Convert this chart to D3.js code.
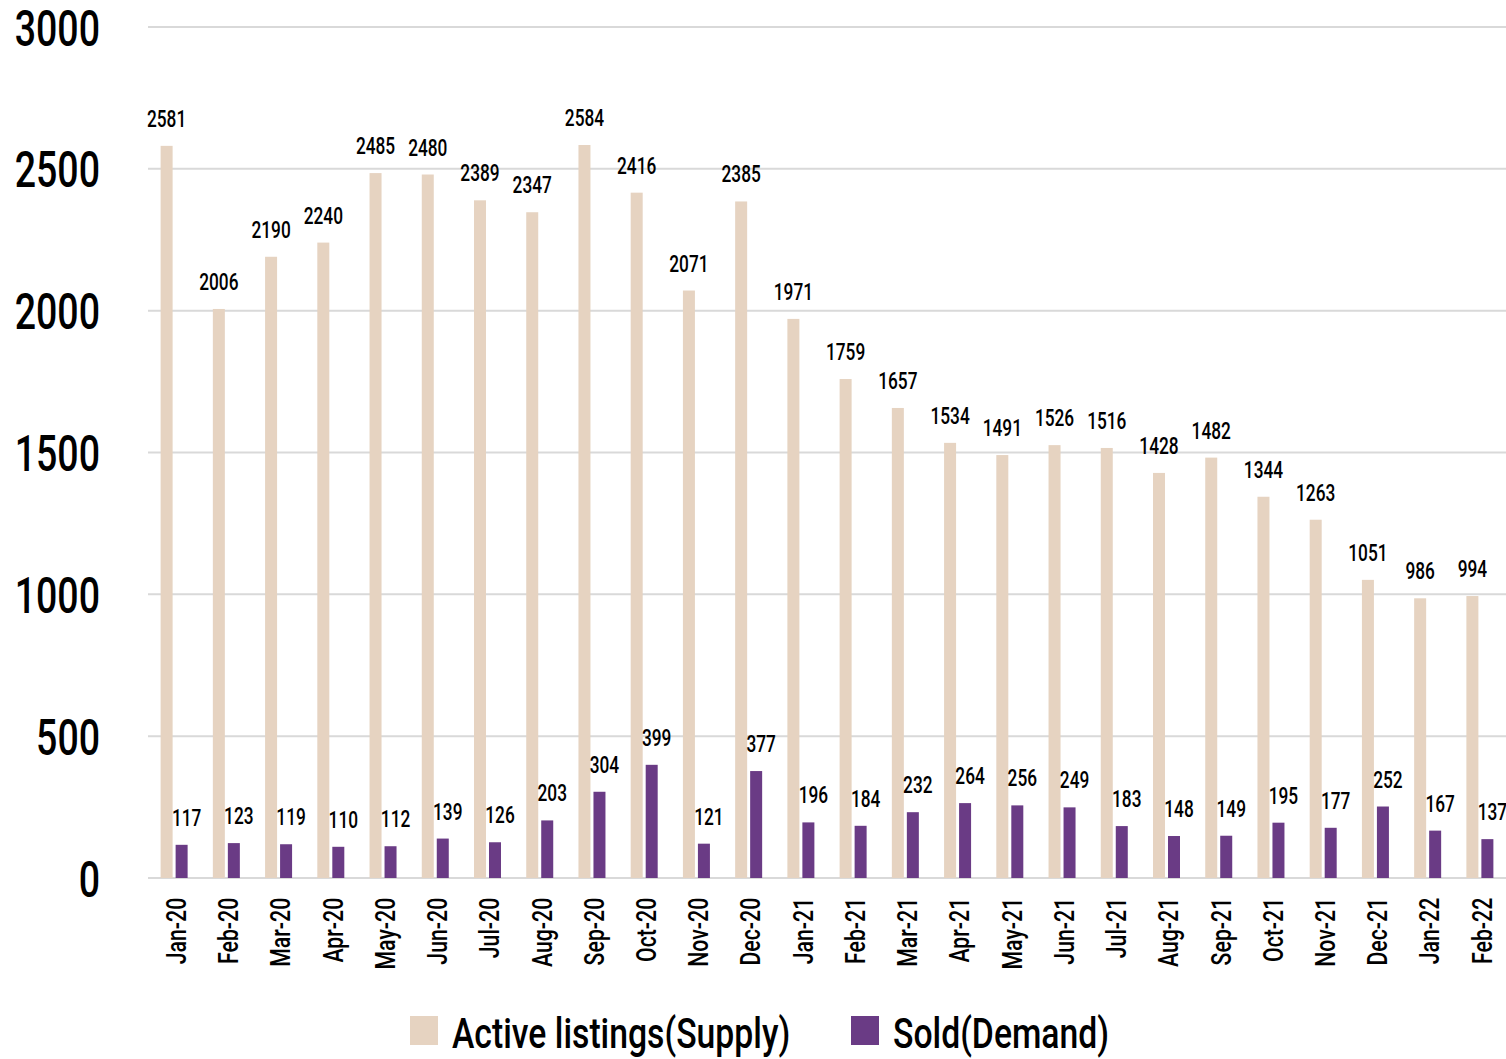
<!DOCTYPE html>
<html>
<head>
<meta charset="utf-8">
<script src="https://cdn.jsdelivr.net/npm/d3@7"></script>
<style>
  body { margin: 0; background: #fff; }
  text { font-family: Roboto, "Liberation Sans", sans-serif; font-weight: 500; fill: #000; }
</style>
</head>
<body>
<div id="chart"></div>
<script>
"use strict";

var months = ["Jan-20","Feb-20","Mar-20","Apr-20","May-20","Jun-20","Jul-20","Aug-20","Sep-20","Oct-20","Nov-20","Dec-20",
  "Jan-21","Feb-21","Mar-21","Apr-21","May-21","Jun-21","Jul-21","Aug-21","Sep-21","Oct-21","Nov-21","Dec-21","Jan-22","Feb-22"];
var supply = [2581,2006,2190,2240,2485,2480,2389,2347,2584,2416,2071,2385,1971,1759,1657,1534,1491,1526,1516,1428,1482,1344,1263,1051,986,994];
var demand = [117,123,119,110,112,139,126,203,304,399,121,377,196,184,232,264,256,249,183,148,149,195,177,252,167,137];
var yTicks = [0,500,1000,1500,2000,2500,3000];
var seriesNames = ["Active listings(Supply)", "Sold(Demand)"];
var colors = ["#e6d3c1", "#6a3b85"];

var W = 1506, H = 1059;
var plotLeft = 148, plotRight = 1506, plotTop = 27, plotBottom = 878;

var svg = d3.select("#chart").append("svg")
  .attr("width", W).attr("height", H);

var x = d3.scaleBand().domain(months).range([plotLeft, plotRight]);
var y = d3.scaleLinear().domain([0, 3000]).range([plotBottom, plotTop]);

// gridlines
svg.append("g").selectAll("line").data(yTicks).enter().append("line")
  .attr("x1", plotLeft).attr("x2", plotRight)
  .attr("y1", function (d) { return y(d); })
  .attr("y2", function (d) { return y(d); })
  .attr("stroke", "#d9d9d9").attr("stroke-width", 2);

// y axis labels (narrow font faked with scaleX)
var yAxis = d3.axisLeft(y).tickValues(yTicks).tickFormat(d3.format("d")).tickSize(0).tickPadding(0);
var yg = svg.append("g").attr("transform", "translate(100,0)").call(yAxis);
yg.select(".domain").remove();
yg.selectAll("text")
  .attr("x", 0).attr("dy", "0.36em")
  .attr("transform", "scale(0.75,1)")
  .style("font-size", "50px").style("font-family", null).style("font-weight", null)
  .attr("fill", "#000");

var barW = 12, gap = 3;
var c = function (m) { return x(m) + x.bandwidth() / 2; };

// supply bars
svg.append("g").selectAll("rect").data(months).enter().append("rect")
  .attr("x", function (d) { return c(d) - barW - gap / 2; })
  .attr("y", function (d, i) { return y(supply[i]); })
  .attr("width", barW)
  .attr("height", function (d, i) { return plotBottom - y(supply[i]); })
  .attr("fill", colors[0]);

// demand bars
svg.append("g").selectAll("rect").data(months).enter().append("rect")
  .attr("x", function (d) { return c(d) + gap / 2; })
  .attr("y", function (d, i) { return y(demand[i]); })
  .attr("width", barW)
  .attr("height", function (d, i) { return plotBottom - y(demand[i]); })
  .attr("fill", colors[1]);

// value labels
var addLabels = function (vals, dx) {
  svg.append("g").selectAll("g").data(months).enter().append("g")
    .attr("transform", function (d, i) { return "translate(" + (c(d) + dx) + "," + (y(vals[i]) - 19) + ")"; })
    .append("text")
    .attr("transform", "scale(0.72,1)")
    .attr("text-anchor", "middle")
    .style("font-size", "24px")
    .text(function (d, i) { return vals[i]; });
};
addLabels(supply, -barW / 2 - gap / 2);
addLabels(demand, barW / 2 + gap / 2 + 5);

// x axis labels (rotated)
var xAxis = d3.axisBottom(x).tickSize(0).tickPadding(0);
var xg = svg.append("g").attr("transform", "translate(0," + plotBottom + ")").call(xAxis);
xg.select(".domain").remove();
xg.selectAll("text")
  .attr("x", -26).attr("y", 2).attr("dy", "0.35em")
  .attr("transform", "rotate(-90) scale(0.76,1)")
  .attr("text-anchor", "end")
  .style("font-size", "28px").style("font-family", null).style("font-weight", null)
  .attr("fill", "#000");

// legend
var legend = svg.append("g");
var legX = [410, 851];
seriesNames.forEach(function (name, i) {
  legend.append("rect")
    .attr("x", legX[i]).attr("y", 1016).attr("width", 28).attr("height", 29)
    .attr("fill", colors[i]);
  legend.append("g")
    .attr("transform", "translate(" + (legX[i] + 42) + ",1048)")
    .append("text")
    .attr("transform", "scale(0.785,1)")
    .style("font-size", "43px")
    .text(name);
});
</script>
</body>
</html>
